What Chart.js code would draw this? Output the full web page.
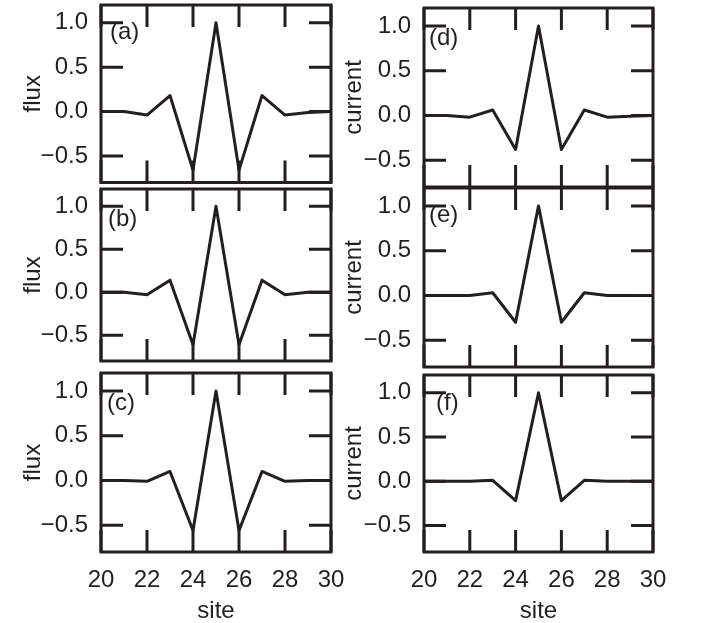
<!DOCTYPE html>
<html>
<head>
<meta charset="utf-8">
<script src="https://cdn.jsdelivr.net/npm/chart.js@4"></script>
<style>
  html, body { margin: 0; padding: 0; background: #ffffff; overflow: hidden; width: 702px; height: 623px; }
  .panel { position: absolute; }
</style>
</head>
<body>
<script>
// ---- data ----
const sites = [20, 21, 22, 23, 24, 25, 26, 27, 28, 29, 30];
const fluxA = [0, 0, -0.04, 0.18, -0.66, 1.0, -0.66, 0.18, -0.04, -0.01, 0];
const fluxB = [0, 0, -0.03, 0.14, -0.61, 1.0, -0.61, 0.14, -0.03, 0, 0];
const fluxC = [0, 0, -0.01, 0.10, -0.56, 1.0, -0.56, 0.10, -0.01, 0, 0];
const currentD = [0, 0, -0.02, 0.06, -0.38, 1.0, -0.38, 0.06, -0.02, -0.01, 0];
const currentE = [0, 0, 0, 0.03, -0.30, 1.0, -0.30, 0.03, 0, 0, 0];
const currentF = [0, 0, 0, 0.01, -0.22, 1.0, -0.22, 0.01, 0, 0, 0];
const xTicks = [20, 22, 24, 26, 28, 30];
const yTicks = [-0.5, 0.0, 0.5, 1.0];
const xTitle = 'site';
const yTitleLeft = 'flux';
const yTitleRight = 'current';
const panelLabels = ['(a)', '(b)', '(c)', '(d)', '(e)', '(f)'];

// ---- layout (chart-area frames in page pixels) ----
const INK = '#231f20';
const FONT = '"Liberation Sans", Arial, Helvetica, sans-serif';
const frames = [
  { l: 101, r: 331, t: 4.5, b: 182, col: 0, bottom: false, dx: 9,  dy: 16 },
  { l: 101, r: 331, t: 189, b: 361, col: 0, bottom: false, dx: 7,  dy: 19 },
  { l: 101, r: 331, t: 373, b: 552, col: 0, bottom: true,  dx: 6,  dy: 19 },
  { l: 424, r: 653, t: 8,   b: 187, col: 1, bottom: false, dx: 5,  dy: 19 },
  { l: 424, r: 653, t: 188, b: 367, col: 1, bottom: false, dx: 5,  dy: 16 },
  { l: 424, r: 653, t: 375, b: 552, col: 1, bottom: true,  dx: 12, dy: 17 }
];
const series = [fluxA, fluxB, fluxC, currentD, currentE, currentF];
const colCanvas = [ { left: 0, width: 362, titlePad: 21 }, { left: 330, width: 372, titlePad: 12 } ];

const fmtY = v => {
  const s = Math.abs(v).toFixed(1);
  return v < 0 ? '\u2212' + s : s;
};

const framePlugin = {
  id: 'frameTicks',
  afterDatasetsDraw(chart, args, opts) {
    const { ctx, chartArea } = chart;
    const { left, right, top, bottom } = chartArea;
    const xs = chart.scales.x, ys = chart.scales.y;
    ctx.save();
    ctx.strokeStyle = INK;
    ctx.lineWidth = 3;
    ctx.lineCap = 'butt';
    ctx.beginPath();
    xTicks.forEach(v => {
      const px = xs.getPixelForValue(v);
      ctx.moveTo(px, bottom); ctx.lineTo(px, bottom - 22);
      ctx.moveTo(px, top); ctx.lineTo(px, top + 22);
    });
    yTicks.forEach(v => {
      const py = ys.getPixelForValue(v);
      ctx.moveTo(left, py); ctx.lineTo(left + 22, py);
      ctx.moveTo(right, py); ctx.lineTo(right - 22, py);
    });
    ctx.stroke();
    ctx.lineJoin = 'miter';
    ctx.strokeRect(left, top, right - left, bottom - top);
    ctx.fillStyle = INK;
    ctx.font = '24px ' + FONT;
    ctx.textBaseline = 'alphabetic';
    ctx.textAlign = 'left';
    ctx.fillText(opts.label, left + opts.dx, top + opts.dy + 17.5);
    ctx.restore();
  }
};

frames.forEach((f, i) => {
  const cc = colCanvas[f.col];
  const canvasTop = Math.max(0, f.t - 4);
  const canvasBottom = f.bottom ? 623 : f.b + 4;
  const padTop = f.t - canvasTop;
  const padBottom = f.bottom ? 0 : canvasBottom - f.b;
  const padRight = cc.left + cc.width - f.r;
  const yWidth = f.l - cc.left;
  const xHeight = f.bottom ? 623 - f.b : 0;

  const div = document.createElement('div');
  div.className = 'panel';
  div.style.left = cc.left + 'px';
  div.style.top = canvasTop + 'px';
  div.style.width = cc.width + 'px';
  div.style.height = (canvasBottom - canvasTop) + 'px';
  const cv = document.createElement('canvas');
  div.appendChild(cv);
  document.body.appendChild(div);

  const vals = series[i];
  new Chart(cv, {
    type: 'line',
    data: {
      datasets: [{
        data: sites.map((s, k) => ({ x: s, y: vals[k] })),
        borderColor: INK,
        borderWidth: 3,
        pointRadius: 0,
        borderJoinStyle: 'round',
        tension: 0,
        fill: false
      }]
    },
    options: {
      responsive: true,
      maintainAspectRatio: false,
      animation: false,
      events: [],
      layout: { padding: { left: 0, right: padRight, top: padTop, bottom: padBottom } },
      plugins: {
        legend: { display: false },
        tooltip: { enabled: false },
        frameTicks: { label: panelLabels[i], dx: f.dx, dy: f.dy }
      },
      scales: {
        x: {
          type: 'linear',
          min: 20, max: 30,
          grid: { display: false, drawTicks: false },
          border: { display: false },
          afterBuildTicks: s => { s.ticks = xTicks.map(v => ({ value: v })); },
          afterFit: s => { s.height = xHeight; s.paddingLeft = 0; s.paddingRight = 0; s.paddingTop = 0; s.paddingBottom = 0; },
          ticks: {
            display: f.bottom,
            padding: 14,
            maxRotation: 0,
            autoSkip: false,
            color: INK,
            font: { family: FONT, size: 24 },
            callback: v => String(v)
          },
          title: {
            display: f.bottom,
            text: xTitle,
            color: INK,
            padding: 0,
            font: { family: FONT, size: 24, lineHeight: 1.0 }
          }
        },
        y: {
          type: 'linear',
          min: -0.8, max: 1.2,
          grid: { display: false, drawTicks: false },
          border: { display: false },
          afterBuildTicks: s => { s.ticks = yTicks.map(v => ({ value: v })); },
          afterFit: s => { s.width = yWidth; s.paddingLeft = 0; s.paddingRight = 0; s.paddingTop = 0; s.paddingBottom = 0; },
          ticks: {
            padding: 13,
            autoSkip: false,
            color: INK,
            font: { family: FONT, size: 24 },
            callback: v => fmtY(Number(v))
          },
          title: {
            display: true,
            text: f.col === 0 ? yTitleLeft : yTitleRight,
            color: INK,
            padding: { top: cc.titlePad, bottom: 0 },
            font: { family: FONT, size: 24, lineHeight: 1.0 }
          }
        }
      }
    },
    plugins: [framePlugin]
  });
});
</script>
</body>
</html>
